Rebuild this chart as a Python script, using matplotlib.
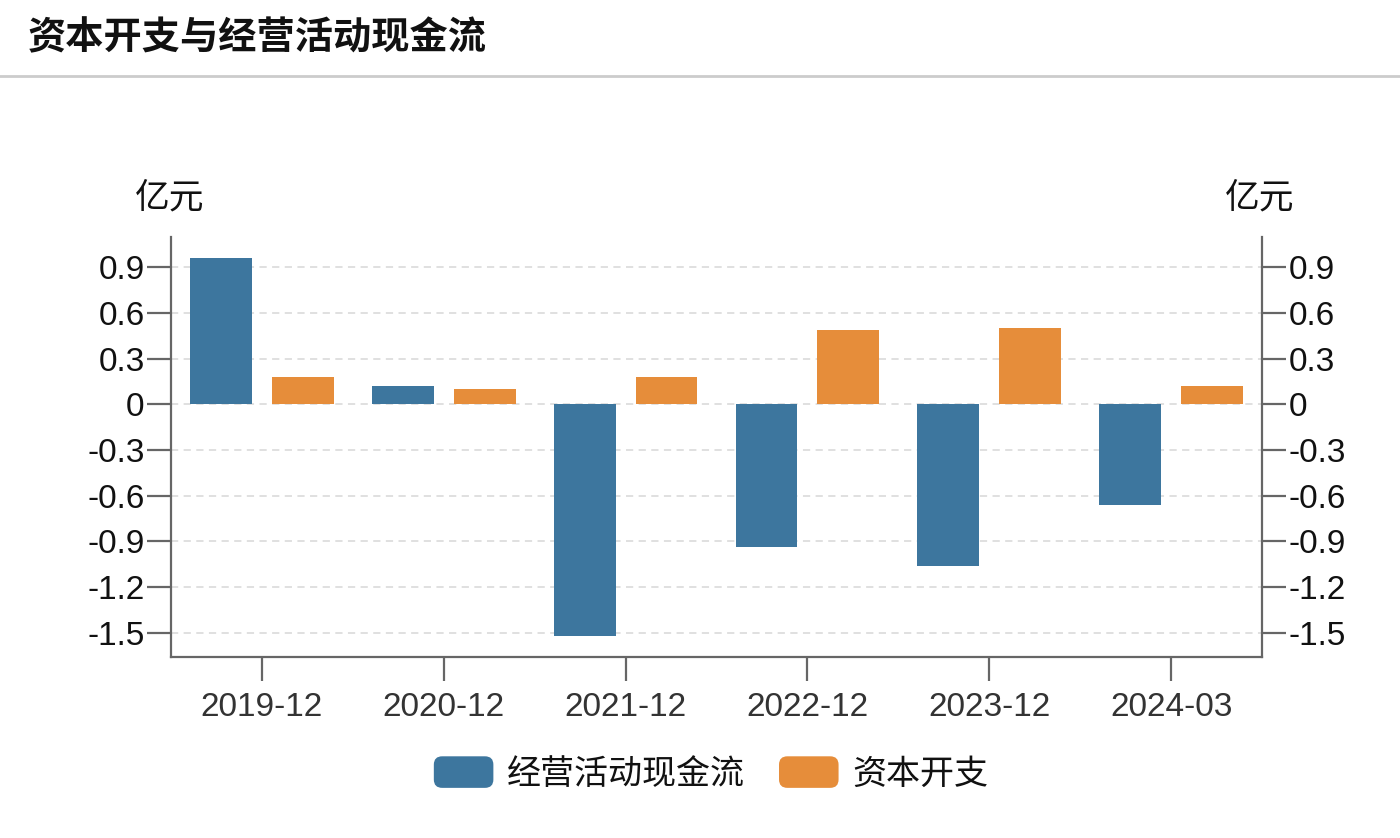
import matplotlib
matplotlib.use("Agg")
import matplotlib.pyplot as plt
import numpy as np
from matplotlib.patches import FancyBboxPatch, Patch
from matplotlib.legend_handler import HandlerPatch
from matplotlib.lines import Line2D

plt.rcParams['font.family'] = ['Liberation Sans', 'Noto Sans CJK SC', 'DejaVu Sans']

categories = ["2019-12", "2020-12", "2021-12", "2022-12", "2023-12", "2024-03"]
operating_cf = [0.96, 0.12, -1.52, -0.94, -1.06, -0.66]
capex = [0.18, 0.10, 0.18, 0.49, 0.50, 0.12]
yticks = [-1.5, -1.2, -0.9, -0.6, -0.3, 0, 0.3, 0.6, 0.9]
ytick_labels = ["-1.5", "-1.2", "-0.9", "-0.6", "-0.3", "0", "0.3", "0.6", "0.9"]
series_names = ["经营活动现金流", "资本开支"]
title = "资本开支与经营活动现金流"
unit = "亿元"

blue = "#3D769E"
orange = "#E68D3A"
axis_color = "#666666"

fig = plt.figure(figsize=(14, 8.38), dpi=100)
ax = fig.add_axes([171/1400, 1-657/838, (1262-171)/1400, (657-237)/838])

x = np.arange(len(categories))
w = 0.34
off = 0.225
ax.bar(x - off, operating_cf, width=w, color=blue, zorder=3)
ax.bar(x + off, capex, width=w, color=orange, zorder=3)

ax.set_xlim(-0.5, len(categories) - 0.5)
ax.set_ylim(-1.66, 1.1)
ax.set_yticks(yticks)
ax.set_yticklabels(ytick_labels)
ax.set_xticks(x)
ax.set_xticklabels(categories)

for yv in yticks:
    ax.axhline(yv, color="#dddddd", linestyle=(0, (4, 3)), linewidth=1.3, zorder=1)

for s in ["top"]:
    ax.spines[s].set_visible(False)
for s in ["left", "right", "bottom"]:
    ax.spines[s].set_color(axis_color)
    ax.spines[s].set_linewidth(1.6)

ax.tick_params(axis="y", which="both", left=True, right=True, labelleft=True, labelright=True,
               length=17, width=1.6, color=axis_color, labelsize=24, labelcolor="#111111", pad=2)
ax.tick_params(axis="x", length=17, width=1.6, color=axis_color, labelsize=24,
               labelcolor="#333333", pad=8)

fig.text(170/1400, 1-198/838, unit, ha="center", va="center", fontsize=25,
         family=['Noto Sans CJK SC'], color="#111111")
fig.text(1260/1400, 1-198/838, unit, ha="center", va="center", fontsize=25,
         family=['Noto Sans CJK SC'], color="#111111")

fig.text(28/1400, 1-38/838, title, ha="left", va="center", fontsize=27.5,
         fontweight="bold", family=['Noto Sans CJK SC'], color="#111111")
fig.add_artist(Line2D([0, 1], [1-76/838, 1-76/838], color="#cccccc", linewidth=2,
                      transform=fig.transFigure))


class HandlerRound(HandlerPatch):
    def create_artists(self, legend, orig_handle, xdescent, ydescent, width, height, fontsize, trans):
        p = FancyBboxPatch((-xdescent, -ydescent), width, height,
                           boxstyle="round,pad=0,rounding_size=6",
                           facecolor=orig_handle.get_facecolor(), edgecolor="none",
                           transform=trans)
        return [p]


handles = [Patch(facecolor=blue), Patch(facecolor=orange)]
leg = fig.legend(handles, series_names, loc="center", bbox_to_anchor=(711/1400, 1-774/838),
                 ncol=2, frameon=False, handler_map={Patch: HandlerRound()},
                 handlelength=1.75, handleheight=1.05, handletextpad=0.4, columnspacing=1.0,
                 prop={'family': ['Noto Sans CJK SC'], 'size': 24.5})
for t in leg.get_texts():
    t.set_color("#111111")

fig.savefig("out.png", dpi=100, facecolor="white")
